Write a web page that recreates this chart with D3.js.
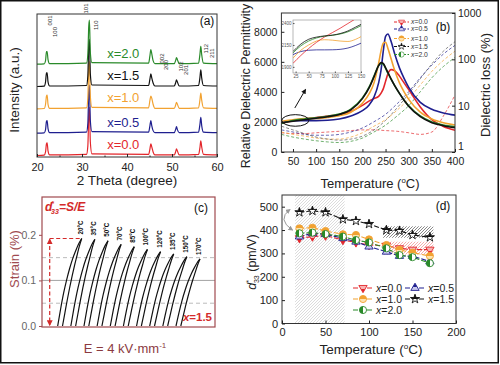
<!DOCTYPE html>
<html><head><meta charset="utf-8">
<script src="https://cdn.jsdelivr.net/npm/d3@7/dist/d3.min.js"></script>
<style>html,body{margin:0;padding:0;background:#fff;} svg{display:block;}</style>
</head><body>
<svg id="fig" width="500" height="365"></svg>
<script>
// ================= DATA =================
const seriesNames = ["x=0.0","x=0.5","x=1.0","x=1.5","x=2.0"];
const seriesColors = ["#e3262b","#1f1f8f","#f2a231","#111111","#2a8a2a"];
const seriesLight  = ["#f7b3b3","#c9c9ee","#fde3b0","#ffffff","#ffffff"];

// (a) XRD patterns
const xrdTheta = [20,21.6,21.9,22.1,22.25,22.45,22.8,31.0,31.3,31.5,31.65,31.85,32.2,44.8,45.1,45.3,45.5,45.8,46.2,50.5,50.8,51.0,51.2,51.6,55.9,56.2,56.4,56.6,57.0,60];
const xrdX00 = [0.5,0.8,4,12,13,5,1,1.5,10,40,48,14,2,1.5,7,12,9,4,1,1,4,7,5,1,1.5,8,15,9,1.5,1];
const xrdX05 = [0.5,0.8,4,12,13,5,1,1.5,10,42,48,13,2,1.5,8,13,8,3,1,1,4,7,4,1,1.5,9,16,8,1.5,1];
const xrdX10 = [0.5,0.8,5,13,14,5,1,1.5,11,42,47,13,2,1.5,9,13,11,5,1,1,4,7,5,1,1.5,9,16,9,1.5,1];
const xrdX15 = [0.5,0.8,5,14,14,5,1,1.5,11,42,47,13,2,1.5,8,13,9,4,1,1,4,7,5,1,1.5,9,17,9,1.5,1];
const xrdX20 = [0.5,0.8,4,13,13,5,1,1.5,10,38,44,12,2,1.5,9,15,11,4,1,1,4,7,5,1,1.5,10,18,10,1.5,1];
const xrdOffsets = [0,22,46,68,90];
const xrdTicks = [20,30,40,50,60];
const hklLabels = ["001","100","101","110","002","200","102","201","112","211"];
const hklTheta = [22.9,23.9,30.9,33.2,47.7,48.6,52.1,53.0,57.6,58.8];
const hklIntensity = [128.7,117.3,140.5,124.2,91.2,84.8,83.3,79.9,101.1,96.6];

// (b) permittivity (solid) and loss (dashed)
const permTemp = [25,50,75,100,125,150,175,200,215,225,235,240,245,250,255,262,270,280,290,300,325,350,375,400];
const permX00 = [1900,2080,2200,2300,2400,2480,2700,3100,3400,3550,3700,3900,4200,4700,5200,5480,5400,5050,4600,4150,3000,2150,1700,1450];
const permX05 = [1950,2080,2090,2090,2110,2200,2400,2750,3150,3650,4600,5400,6700,7700,7850,7350,6500,5600,4900,4300,3300,2850,2600,2450];
const permX10 = [2050,2150,2230,2230,2300,2420,2650,3250,3900,4600,5900,6700,7250,7300,6900,6200,5400,4600,4000,3500,2650,2200,1950,1800];
const permX15 = [1950,2050,2150,2250,2350,2500,2800,3550,4300,5000,5750,5950,5900,5600,5300,4850,4400,3900,3450,3050,2350,1950,1750,1620];
const permX20 = [1900,2100,2200,2280,2380,2520,2850,3600,4350,5050,5750,5900,5850,5580,5250,4850,4400,3900,3450,3080,2400,2000,1800,1680];
const lossTemp = [25,50,75,100,125,150,175,200,225,250,275,300,325,350,375,400];
const lossX00 = [2.6,2.5,2.5,2.6,2.7,2.8,2.9,3.0,3.0,2.9,2.8,2.6,2.4,2.7,6,17];
const lossX05 = [3.0,2.7,2.4,2.3,2.3,2.4,2.7,3.3,4.5,6.5,11,20,40,75,130,200];
const lossX10 = [2.7,2.4,2.2,2.0,1.9,1.9,2.1,2.6,3.6,5.0,8,14,28,55,95,150];
const lossX15 = [3.6,3.0,2.5,2.1,1.9,1.8,1.9,2.2,3.0,4.8,9,18,38,80,150,240];
const lossX20 = [2.4,2.1,1.9,1.75,1.65,1.6,1.7,2.0,2.7,3.8,6,10,20,40,70,110];
const insetTemp = [20,35,50,65,80,95,110,125,140,150];
const insetX00 = [1940,2030,2110,2180,2240,2290,2340,2395,2450,2490];
const insetX05 = [2040,2075,2090,2094,2094,2095,2100,2115,2145,2170];
const insetX10 = [2000,2090,2150,2195,2210,2205,2195,2190,2215,2245];
const insetX15 = [2075,2160,2215,2240,2253,2262,2280,2310,2355,2385];
const insetX20 = [2060,2140,2195,2230,2250,2260,2275,2300,2340,2370];
const permTicks = [0,2000,4000,6000,8000];
const tempTicksB = [50,100,150,200,250,300,350,400];
const lossTicks = [1,10,100,1000];
const insetXTicks = [25,50,75,100,125,150];
const insetYTicks = [1900,2150,2400];

// (c) strain loops, x = 1.5
const loopLabels = ["20°C","35°C","50°C","70°C","85°C","100°C","120°C","135°C","150°C","170°C"];
const loopPeakStrain = [0.192,0.190,0.187,0.179,0.174,0.168,0.163,0.158,0.152,0.147];
const loopFieldUp = [0,0.5,1,1.5,2,2.5,3,3.5,4];
const loopFracUp = [0,0.2,0.38,0.53,0.66,0.77,0.86,0.94,1];
const loopFieldDown = [0.8,1.2,1.6,2.0,2.4,2.8,3.2,3.6,4];
const loopFracDown = [0,0.15,0.3,0.44,0.57,0.69,0.8,0.91,1];
const strainTicks = [0,0.1,0.2];
const strainGuidesDashed = [0.05,0.15];
const strainGuideSolid = 0.1;

// (d) d33 vs temperature
const d33Temp = [20,35,50,70,85,100,120,135,150,170];
const d33X00 = [365,372,376,357,347,336,333,322,316,316];
const d33X05 = [372,386,382,365,350,329,307,289,289,265];
const d33X10 = [407,410,396,382,379,360,336,315,303,289];
const d33X15 = [476,482,476,446,439,426,400,397,379,369];
const d33X20 = [386,389,383,372,357,347,322,293,284,258];
const d33TicksX = [0,50,100,150,200];
const d33TicksY = [0,100,200,300,400,500];
const hatchRegions = [
  {t0:15, t1:72, v0:0, v1:550, pat:"hatchGray"},
  {t0:116, t1:174, v0:367, v1:416, pat:"hatchDark"},
  {t0:116, t1:174, v0:295, v1:350, pat:"hatchRed"}
];

// ================= DRAWING =================
const FONT = "Arial, 'Liberation Sans', Helvetica, sans-serif";
const svg = d3.select("#fig").attr("font-family", FONT);
const defs = svg.append("defs");

seriesNames.forEach((n,i)=>{
  const horiz = (i===4);
  const g = defs.append("linearGradient").attr("id","mg"+i)
    .attr("x1",0).attr("y1",0).attr("x2",horiz?1:0).attr("y2",horiz?0:1);
  const a = (i===0) ? seriesLight[i] : seriesColors[i];
  const b = (i===0) ? seriesColors[i] : seriesLight[i];
  g.append("stop").attr("offset","0%").attr("stop-color",a);
  g.append("stop").attr("offset","50%").attr("stop-color",a);
  g.append("stop").attr("offset","50%").attr("stop-color",b);
  g.append("stop").attr("offset","100%").attr("stop-color",b);
});
function hatch(id, color, w){
  const p = defs.append("pattern").attr("id",id).attr("patternUnits","userSpaceOnUse")
    .attr("width",3).attr("height",3);
  p.append("path").attr("d","M-1,1 l2,-2 M0,3 l3,-3 M2,4 l2,-2")
    .attr("stroke",color).attr("stroke-width",w);
}
hatch("hatchGray","#c4c4c4",0.6);
hatch("hatchDark","#555",0.7);
hatch("hatchRed","#f08a8a",0.7);
function arrowDef(id,color){
  defs.append("marker").attr("id",id).attr("viewBox","0 0 10 10").attr("refX",8).attr("refY",5)
    .attr("markerWidth",5).attr("markerHeight",5).attr("orient","auto-start-reverse")
    .append("path").attr("d","M0,0 L10,5 L0,10 z").attr("fill",color);
}
arrowDef("arrBlack","#111");
arrowDef("arrRed","#d42a2a");
arrowDef("arrGray","#999");

const triDown = {draw(ctx,size){const s=Math.sqrt(size/0.433)/2;const h=s*0.866;ctx.moveTo(-s,-h*0.7);ctx.lineTo(s,-h*0.7);ctx.lineTo(0,h*1.3);ctx.closePath();}};
const symbolTypes = [triDown, d3.symbolTriangle, d3.symbolCircle, d3.symbolStar, d3.symbolCircle];
const symbolBase = [30, 30, 40, 26, 40];
function drawMarker(g, i, x, y, scale){
  g.append("path").attr("d", d3.symbol().type(symbolTypes[i]).size(symbolBase[i]*scale)())
    .attr("transform",`translate(${x},${y})`)
    .attr("fill",`url(#mg${i})`).attr("stroke",seriesColors[i]).attr("stroke-width",scale<0.7?0.6:0.9);
}
function styleAxis(sel, color, fs){
  sel.select(".domain").remove();
  sel.selectAll(".tick line").attr("stroke",color);
  sel.selectAll(".tick text").attr("fill",color).attr("font-size",fs).attr("font-family",FONT);
}
function tempLabel(g, x, y, fs){
  const t = g.append("text").attr("x",x).attr("y",y).attr("text-anchor","middle")
    .attr("font-size",fs).attr("fill","#222");
  t.append("tspan").text("Temperature (");
  t.append("tspan").attr("font-size",fs*0.6).attr("dy",-fs*0.4).text("o");
  t.append("tspan").attr("dy",fs*0.4).text("C)");
}

// ---------- Panel (a) ----------
{
  const xa = d3.scaleLinear().domain([20,60]).range([37,217]);
  const ya = d3.scaleLinear().domain([-1,140]).range([157,14]);
  const g = svg.append("g");
  const xrdSeries = [xrdX00,xrdX05,xrdX10,xrdX15,xrdX20];
  defs.append("clipPath").attr("id","clipA").append("rect").attr("x",37).attr("y",2).attr("width",180).attr("height",155);
  const lg = g.append("g").attr("clip-path","url(#clipA)");
  xrdSeries.forEach((arr,i)=>{
    const line = d3.line().x((d,k)=>xa(xrdTheta[k])).y(d=>ya(d+xrdOffsets[i])).curve(d3.curveMonotoneX);
    lg.append("path").attr("d",line(arr)).attr("fill","none").attr("stroke",seriesColors[i]).attr("stroke-width",1.2);
    g.append("text").attr("x",xa(35.6)).attr("y",ya(xrdOffsets[i]+7)).attr("font-size",13)
      .attr("fill",seriesColors[i]).text(seriesNames[i]);
  });
  g.append("rect").attr("x",37).attr("y",14).attr("width",180).attr("height",143).attr("fill","none").attr("stroke","#333").attr("stroke-width",1);
  g.append("g").attr("transform","translate(0,157)").call(d3.axisBottom(xa).tickValues(xrdTicks).tickSize(-3).tickPadding(6)).call(styleAxis,"#222",11);
  g.append("g").attr("transform","translate(0,157)").call(d3.axisBottom(xa).tickValues([25,35,45,55]).tickSize(-1.5).tickFormat("")).call(styleAxis,"#222",11);
  hklLabels.forEach((l,i)=>{
    g.append("text").attr("transform",`translate(${xa(hklTheta[i])},${ya(hklIntensity[i])}) rotate(-90)`)
      .attr("dominant-baseline","central").attr("font-size",6).attr("fill","#333").text(l);
  });
  g.append("text").attr("x",207).attr("y",25).attr("text-anchor","middle").attr("font-size",12).attr("fill","#111").text("(a)");
  g.append("text").attr("transform","translate(19,90) rotate(-90)").attr("text-anchor","middle").attr("font-size",13.5).attr("fill","#222").text("Intensity (a.u.)");
  g.append("text").attr("x",127).attr("y",185).attr("text-anchor","middle").attr("font-size",13.5).attr("fill","#222").text("2 Theta (degree)");
}

// ---------- Panel (b) ----------
{
  const xb = d3.scaleLinear().domain([25,400]).range([281.4,455]);
  const yb = d3.scaleLinear().domain([0,9250]).range([152,13]);
  const yl = d3.scaleLog().domain([1,1000]).range([152,13]);
  const g = svg.append("g");
  defs.append("clipPath").attr("id","clipB").append("rect").attr("x",281.4).attr("y",13).attr("width",173.6).attr("height",139);
  const pg = g.append("g").attr("clip-path","url(#clipB)");
  const lossSeries = [lossX00,lossX05,lossX10,lossX15,lossX20];
  lossSeries.forEach((arr,i)=>{
    const line = d3.line().x((d,k)=>xb(lossTemp[k])).y(d=>yl(d)).curve(d3.curveMonotoneX);
    pg.append("path").attr("d",line(arr)).attr("fill","none").attr("stroke",i===3?"#555":seriesColors[i])
      .attr("stroke-width",0.8).attr("stroke-dasharray","3,2").attr("opacity",0.85);
  });
  const permSeries = [permX00,permX05,permX10,permX20,permX15];
  const permIdx = [0,1,2,4,3];
  permSeries.forEach((arr,j)=>{
    const i = permIdx[j];
    const line = d3.line().x((d,k)=>xb(permTemp[k])).y(d=>yb(d)).curve(d3.curveMonotoneX);
    pg.append("path").attr("d",line(arr)).attr("fill","none").attr("stroke",seriesColors[i]).attr("stroke-width",1.6);
  });
  g.append("rect").attr("x",281.4).attr("y",13).attr("width",173.6).attr("height",139).attr("fill","none").attr("stroke","#333");
  g.append("g").attr("transform","translate(0,152)").call(d3.axisBottom(xb).tickValues(tempTicksB).tickSize(-3).tickPadding(6)).call(styleAxis,"#222",10.5);
  g.append("g").attr("transform","translate(281.4,0)").call(d3.axisLeft(yb).tickValues(permTicks).tickFormat(d3.format("d")).tickSize(-3).tickPadding(4)).call(styleAxis,"#222",10.5);
  const ra = g.append("g").attr("transform","translate(455,0)").call(d3.axisRight(yl).tickValues(lossTicks).tickFormat(d3.format("d")).tickSize(-3).tickPadding(3)).call(styleAxis,"#222",10.5);
  ra.selectAll(".tick text").filter(d=>d===1).attr("dy","-0.2em");
  // inset
  const xi = d3.scaleLinear().domain([20,150]).range([293,361]);
  const yi = d3.scaleLinear().domain([1830,2435]).range([73,20]);
  g.append("rect").attr("x",293).attr("y",20).attr("width",68).attr("height",53).attr("fill","#fff").attr("stroke","#888").attr("stroke-width",0.6);
  defs.append("clipPath").attr("id","clipI").append("rect").attr("x",293).attr("y",20).attr("width",68).attr("height",53);
  const ig = g.append("g").attr("clip-path","url(#clipI)");
  const insetSeries = [insetX05,insetX10,insetX00,insetX20,insetX15];
  const insetIdx = [1,2,0,4,3];
  insetSeries.forEach((arr,j)=>{
    const i = insetIdx[j];
    const line = d3.line().x((d,k)=>xi(insetTemp[k])).y(d=>yi(d)).curve(d3.curveMonotoneX);
    ig.append("path").attr("d",line(arr)).attr("fill","none").attr("stroke",seriesColors[i]).attr("stroke-width",0.8);
  });
  g.append("g").attr("transform","translate(0,73)").call(d3.axisBottom(xi).tickValues(insetXTicks).tickSize(-1.5).tickPadding(2)).call(styleAxis,"#555",4.5);
  g.append("g").attr("transform","translate(293,0)").call(d3.axisLeft(yi).tickValues(insetYTicks).tickFormat(d3.format("d")).tickSize(-1.5).tickPadding(1.5)).call(styleAxis,"#555",4.5);
  g.append("ellipse").attr("cx",xb(55)).attr("cy",yb(2100)).attr("rx",13.5).attr("ry",5.8).attr("fill","none").attr("stroke","#111").attr("stroke-width",1);
  g.append("line").attr("x1",xb(54)).attr("y1",yb(2930)).attr("x2",xb(77)).attr("y2",yb(4150))
    .attr("stroke","#111").attr("stroke-width",1).attr("marker-end","url(#arrBlack)");
  // legend
  const rowY = [22,29,38.5,46.5,54.5];
  seriesNames.forEach((n,i)=>{
    g.append("line").attr("x1",394).attr("x2",409).attr("y1",rowY[i]).attr("y2",rowY[i])
      .attr("stroke",seriesColors[i]).attr("stroke-width",1).attr("stroke-dasharray","3,1.5");
    drawMarker(g,i,401.5,rowY[i],0.55);
    const t = g.append("text").attr("x",411).attr("y",rowY[i]+2.3).attr("font-size",6.8).attr("fill","#333");
    t.append("tspan").attr("font-style","italic").text("x");
    t.append("tspan").text(n.slice(1));
  });
  g.append("text").attr("x",443).attr("y",31).attr("text-anchor","middle").attr("font-size",12).attr("fill","#111").text("(b)");
  g.append("text").attr("transform","translate(250,86) rotate(-90)").attr("text-anchor","middle").attr("font-size",12.5).attr("fill","#222").text("Relative Dielectric Permittivity");
  g.append("text").attr("transform","translate(490,85) rotate(-90)").attr("text-anchor","middle").attr("font-size",13).attr("fill","#222").text("Dielectric loss (%)");
  tempLabel(g,370,188,13);
}

// ---------- Panel (c) ----------
{
  const frame = "#a04a4f";
  const dred = "#d42a2a";
  const ys = d3.scaleLinear().domain([0,0.283]).range([326,197]);
  const xLoop = d3.scalePoint().domain(loopLabels).range([57.7,176]);
  const xE = d3.scaleLinear().domain([0,4]).range([0,24]);
  const g = svg.append("g");
  strainGuidesDashed.forEach(s=>{
    g.append("line").attr("x1",42).attr("x2",215).attr("y1",ys(s)).attr("y2",ys(s)).attr("stroke","#aaa").attr("stroke-width",0.8).attr("stroke-dasharray","4,3");
  });
  g.append("line").attr("x1",42).attr("x2",215).attr("y1",ys(strainGuideSolid)).attr("y2",ys(strainGuideSolid)).attr("stroke","#999").attr("stroke-width",0.9);
  loopLabels.forEach((lab,i)=>{
    const x0 = xLoop(lab);
    const up = d3.line().x((d,k)=>x0+xE(loopFieldUp[k])).y(d=>ys(d*loopPeakStrain[i])).curve(d3.curveMonotoneX);
    const dn = d3.line().x((d,k)=>x0+xE(loopFieldDown[k])).y(d=>ys(d*loopPeakStrain[i])).curve(d3.curveMonotoneX);
    g.append("path").attr("d",up(loopFracUp)).attr("fill","none").attr("stroke","#111").attr("stroke-width",1.2);
    g.append("path").attr("d",dn(loopFracDown)).attr("fill","none").attr("stroke","#111").attr("stroke-width",1.2);
    const tx = x0 + xE(4), ty = ys(loopPeakStrain[i]);
    g.append("text").attr("transform",`translate(${tx-1.5},${ty-4}) rotate(-90)`).attr("dominant-baseline","central")
      .attr("font-size",6.3).attr("font-weight","bold").attr("fill","#111").text(lab);
  });
  const xa0 = xLoop(loopLabels[0]) - 8;
  g.append("line").attr("x1",xa0).attr("x2",xLoop(loopLabels[0])+xE(4)).attr("y1",ys(loopPeakStrain[0])).attr("y2",ys(loopPeakStrain[0]))
    .attr("stroke",dred).attr("stroke-width",1.2).attr("stroke-dasharray","4,2.5");
  g.append("line").attr("x1",xa0).attr("x2",xa0).attr("y1",ys(loopPeakStrain[0])+1).attr("y2",ys(0)-1)
    .attr("stroke",dred).attr("stroke-width",1.2).attr("stroke-dasharray","4,2.5")
    .attr("marker-start","url(#arrRed)").attr("marker-end","url(#arrRed)");
  g.append("rect").attr("x",42).attr("y",197).attr("width",173).attr("height",130).attr("fill","none").attr("stroke",frame).attr("stroke-width",1.2);
  const ax = g.append("g").attr("transform","translate(42,0)").call(d3.axisLeft(ys).tickValues(strainTicks).tickFormat(d3.format(".1f")).tickSize(3).tickPadding(3)).call(styleAxis,"#666",10.5);
  ax.selectAll(".tick line").attr("stroke",frame);
  const t = g.append("text").attr("x",45).attr("y",211).attr("font-size",12).attr("font-weight","bold").attr("font-style","italic").attr("fill",dred);
  t.append("tspan").text("d");
  t.append("tspan").attr("font-size",7).attr("dy",-5).attr("dx",-1).text("*");
  t.append("tspan").attr("font-size",7).attr("dy",8).attr("dx",-3).text("33");
  t.append("tspan").attr("dy",-3).text("=S/E");
  g.append("text").attr("x",201).attr("y",212).attr("text-anchor","middle").attr("font-size",12).attr("fill","#111").text("(c)");
  const t2 = g.append("text").attr("x",212).attr("y",321).attr("text-anchor","end").attr("font-size",11.5).attr("font-weight","bold").attr("fill",dred);
  t2.append("tspan").attr("font-style","italic").text("x");
  t2.append("tspan").text("=1.5");
  g.append("text").attr("transform","translate(19,259) rotate(-90)").attr("text-anchor","middle").attr("font-size",13).attr("fill",frame).text("Strain (%)");
  const t3 = g.append("text").attr("x",125).attr("y",353).attr("text-anchor","middle").attr("font-size",13).attr("fill","#8b3a3f");
  t3.append("tspan").text("E = 4 kV·mm");
  t3.append("tspan").attr("font-size",8).attr("dy",-5).text("-1");
}

// ---------- Panel (d) ----------
{
  const xd = d3.scaleLinear().domain([0,200]).range([282,456]);
  const yd = d3.scaleLinear().domain([0,550]).range([323.5,195]);
  const g = svg.append("g");
  hatchRegions.forEach(h=>{
    g.append("rect").attr("x",xd(h.t0)).attr("y",yd(h.v1)).attr("width",xd(h.t1)-xd(h.t0)).attr("height",yd(h.v0)-yd(h.v1))
      .attr("fill",`url(#${h.pat})`);
  });
  const dSeries = [d33X00,d33X05,d33X10,d33X20,d33X15];
  const dIdx = [0,1,2,4,3];
  dSeries.forEach((arr,j)=>{
    const i = dIdx[j];
    const line = d3.line().x((d,k)=>xd(d33Temp[k])).y(d=>yd(d));
    g.append("path").attr("d",line(arr)).attr("fill","none").attr("stroke",seriesColors[i]).attr("stroke-width",1.1).attr("stroke-dasharray","5,2");
  });
  dSeries.forEach((arr,j)=>{
    const i = dIdx[j];
    arr.forEach((v,k)=>drawMarker(g,i,xd(d33Temp[k]),yd(v),1));
  });
  g.append("path").attr("d",`M${xd(12)},${yd(400)} Q${xd(-6)},${yd(445)} ${xd(9)},${yd(488)}`)
    .attr("fill","none").attr("stroke","#999").attr("stroke-width",1).attr("marker-end","url(#arrGray)").attr("marker-start","url(#arrGray)");
  g.append("rect").attr("x",282).attr("y",195).attr("width",174).attr("height",128.5).attr("fill","none").attr("stroke","#333");
  g.append("g").attr("transform","translate(0,323.5)").call(d3.axisBottom(xd).tickValues(d33TicksX).tickSize(-3).tickPadding(5)).call(styleAxis,"#222",11);
  g.append("g").attr("transform","translate(282,0)").call(d3.axisLeft(yd).tickValues(d33TicksY).tickSize(-3).tickPadding(4)).call(styleAxis,"#222",11);
  const legPos = [[353,288],[405,288],[353,299],[405,299],[353,310]];
  seriesNames.forEach((n,i)=>{
    const [lx,ly] = legPos[i];
    g.append("line").attr("x1",lx).attr("x2",lx+20).attr("y1",ly).attr("y2",ly).attr("stroke",seriesColors[i]).attr("stroke-width",1.1).attr("stroke-dasharray","5,2");
    drawMarker(g,i,lx+10,ly,1);
    const t = g.append("text").attr("x",lx+23).attr("y",ly+4).attr("font-size",10.5).attr("fill","#222");
    t.append("tspan").attr("font-style","italic").text("x");
    t.append("tspan").text(n.slice(1));
  });
  g.append("text").attr("x",443).attr("y",210).attr("text-anchor","middle").attr("font-size",12).attr("fill","#111").text("(d)");
  const t = g.append("text").attr("transform","translate(256,262) rotate(-90)").attr("text-anchor","middle").attr("font-size",12.5).attr("fill","#222");
  t.append("tspan").attr("font-style","italic").text("d");
  t.append("tspan").attr("font-size",7).attr("dy",-5).text("*");
  t.append("tspan").attr("font-size",7).attr("dy",8).attr("dx",-3).text("33");
  t.append("tspan").attr("dy",-3).text(" (pm/V)");
  tempLabel(g,371,354,13.5);
}

svg.append("rect").attr("x",0.75).attr("y",0.75).attr("width",497.5).attr("height",362).attr("fill","none").attr("stroke","#111").attr("stroke-width",1.5);
</script>
</body></html>
